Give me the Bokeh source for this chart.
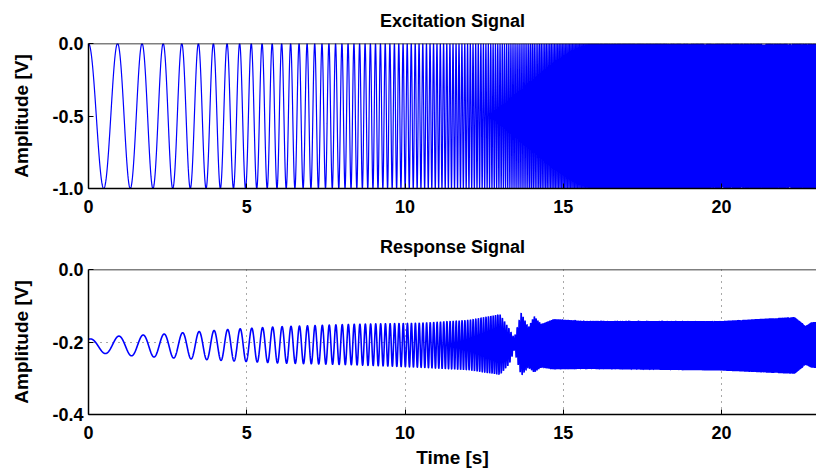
import numpy as np
from bokeh.plotting import figure
from bokeh.layouts import column
from bokeh.models import FixedTicker, Range1d, Span
from bokeh.embed import file_html
from bokeh.resources import INLINE

# ---- data ----
X_TICKS = [0, 5, 10, 15, 20]
EXC_Y_TICKS = [-1.0, -0.5, 0.0]
RESP_Y_TICKS = [-0.4, -0.2, 0.0]

SWEEP_F0 = 0.99      # Hz at t = 0
SWEEP_RATE = 0.204   # 1/s  (f(t) = f0 * exp(rate * t))
EXC_MID = -0.5
EXC_AMP = 0.5
DURATION = 23.0
SAMPLE_RATE = 1000.0

# Response: envelope (time, upper edge, lower edge)
RESP_T = [0.0, 0.9, 2.4, 4.5, 6.0, 8.4, 10.5, 12.0, 13.0, 13.3, 13.45, 13.67, 13.9,
          14.08, 14.3, 14.7, 15.6, 20.0, 22.3, 22.66, 22.85, 23.0]
RESP_UPPER = [-0.192, -0.184, -0.178, -0.165, -0.158, -0.151, -0.148, -0.140, -0.124,
              -0.165, -0.190, -0.120, -0.160, -0.129, -0.151, -0.137, -0.142, -0.142,
              -0.131, -0.156, -0.145, -0.145]
RESP_LOWER = [-0.226, -0.236, -0.243, -0.252, -0.258, -0.263, -0.270, -0.277, -0.290,
              -0.260, -0.222, -0.293, -0.270, -0.284, -0.270, -0.275, -0.274, -0.279,
              -0.288, -0.263, -0.271, -0.272]
RESP_LAG = 0.3  # rad

t = np.arange(0.0, DURATION + 1.0 / SAMPLE_RATE, 1.0 / SAMPLE_RATE)
phase = 2 * np.pi * SWEEP_F0 / SWEEP_RATE * (np.exp(SWEEP_RATE * t) - 1.0)
excitation = EXC_MID + EXC_AMP * np.cos(phase)
upper = np.interp(t, RESP_T, RESP_UPPER)
lower = np.interp(t, RESP_T, RESP_LOWER)
response = (upper + lower) / 2 + (upper - lower) / 2 * np.cos(phase - RESP_LAG)

FONT = "Liberation Sans"
BLUE = "#0000ff"


def style(p, yticks, grid):
    p.outline_line_color = None
    p.background_fill_color = "white"
    p.border_fill_color = "white"
    p.title.align = "center"
    p.title.vertical_align = "top"
    p.title.text_font = FONT
    p.title.text_font_size = "18px"
    p.title.text_font_style = "bold"
    p.title.text_color = "black"
    p.title.standoff = 21
    for ax in p.xaxis + p.yaxis:
        ax.axis_line_color = "black"
        ax.axis_line_width = 1.5
        ax.major_tick_in = 5
        ax.major_tick_out = 0
        ax.minor_tick_in = 0
        ax.minor_tick_out = 0
        ax.major_tick_line_color = "black"
        ax.major_label_text_font = FONT
        ax.major_label_text_font_size = "18px"
        ax.major_label_text_font_style = "bold"
        ax.major_label_text_color = "black"
        ax.axis_label_text_font = FONT
        ax.axis_label_text_font_size = "19px"
        ax.axis_label_text_font_style = "bold"
        ax.axis_label_text_color = "black"
    p.xaxis.major_label_standoff = 11
    p.yaxis.major_label_standoff = 5
    p.xaxis.ticker = FixedTicker(ticks=X_TICKS)
    p.yaxis.ticker = FixedTicker(ticks=yticks)
    p.xaxis.major_label_overrides = {v: str(v) for v in X_TICKS}
    p.yaxis.axis_label = "Amplitude [V]"
    p.yaxis.axis_label_standoff = 17
    p.add_layout(Span(location=0.0, dimension="width", line_color="black", line_width=1.5))
    if grid:
        for g in (p.xgrid[0], p.ygrid[0]):
            g.grid_line_color = "#505050"
            g.grid_line_dash = "1 5"
            g.grid_line_width = 1
        p.xgrid.ticker = FixedTicker(ticks=X_TICKS)
        p.ygrid.ticker = FixedTicker(ticks=yticks)
    else:
        p.xgrid.grid_line_color = None
        p.ygrid.grid_line_color = None


p1 = figure(width=816, height=226, output_backend="svg", toolbar_location=None,
            title="Excitation Signal", x_range=Range1d(0, DURATION), y_range=Range1d(-1.0, 0.0),
            min_border_left=88, min_border_right=0, min_border_top=42, min_border_bottom=38)
p1.line(t, excitation, line_color=BLUE, line_width=1.2)
style(p1, EXC_Y_TICKS, grid=False)
p1.yaxis.major_label_overrides = {-1.0: "-1.0", -0.5: "-0.5", 0.0: "0.0"}

p2 = figure(width=816, height=249, output_backend="svg", toolbar_location=None,
            title="Response Signal", x_range=Range1d(0, DURATION), y_range=Range1d(-0.4, 0.0),
            min_border_left=88, min_border_right=0, min_border_top=42, min_border_bottom=61)
p2.line(t, response, line_color=BLUE, line_width=1.6)
style(p2, RESP_Y_TICKS, grid=True)
p2.yaxis.major_label_overrides = {-0.4: "-0.4", -0.2: "-0.2", 0.0: "0.0"}
p2.xaxis.axis_label = "Time [s]"
p2.xaxis.axis_label_standoff = 5

layout = column(p1, p2, spacing=0)
open("out.html", "w").write(file_html(layout, INLINE))
